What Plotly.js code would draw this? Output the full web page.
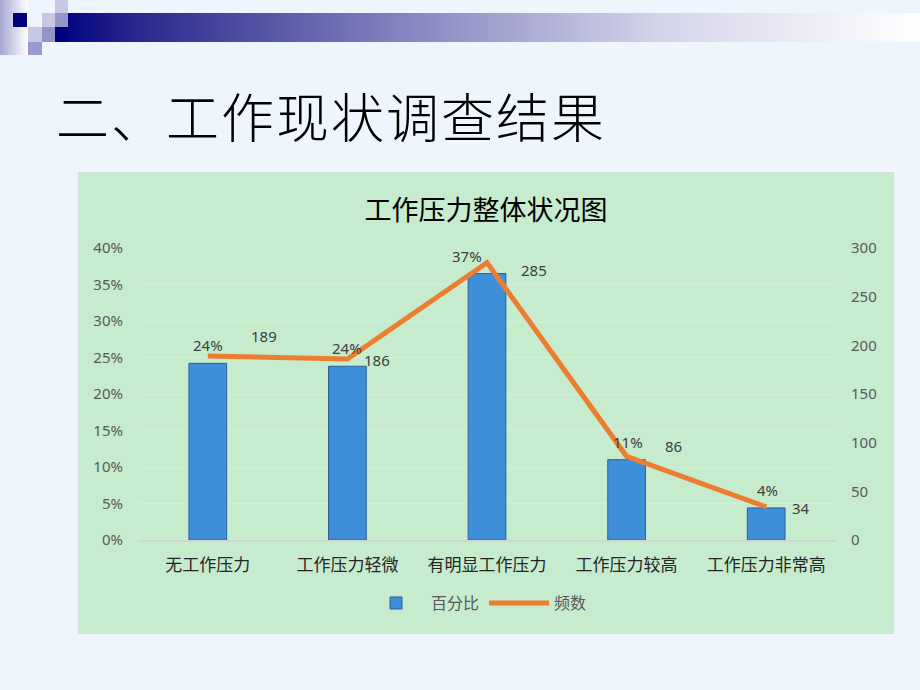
<!DOCTYPE html>
<html>
<head>
<meta charset="utf-8">
<script src="https://cdn.plot.ly/plotly-3.0.1.min.js"></script>
<style>
  html, body { margin:0; padding:0; }
  body { width:920px; height:690px; background:#EEF5FC; position:relative; overflow:hidden; font-family:"Noto Sans CJK SC", sans-serif; }
  .abs { position:absolute; }
  #leftgrad { left:0; top:0; width:28px; height:55px; background:linear-gradient(to right,#A6A6D2,#FFFFFF); }
  #topbar { left:55px; top:13px; width:865px; height:29px; background:linear-gradient(to right,#000080 0%,#2A2A8E 10%,#8484C0 40%,#D4D4EA 70%,#FFFFFF 100%); }
  #title { left:56px; top:85px; font-size:53px; line-height:60px; color:#000; font-family:"Noto Sans CJK SC", sans-serif; letter-spacing:2px; font-weight:300; }
  #chartbox { left:78px; top:172px; width:814px; height:460px; border:1px solid #D6DDDC; }
</style>
</head>
<body>
<div class="abs" id="leftgrad"></div>
<div class="abs" id="topbar"></div>
<div class="abs" style="left:13px;top:13px;width:14px;height:14px;background:#000080;"></div>
<div class="abs" style="left:55px;top:0px;width:13px;height:13px;background:#C8C8E4;"></div>
<div class="abs" style="left:42px;top:13px;width:13px;height:14px;background:#C8C8E4;"></div>
<div class="abs" style="left:55px;top:13px;width:13px;height:14px;background:#9696CA;"></div>
<div class="abs" style="left:28px;top:27px;width:14px;height:15px;background:#C8C8E4;"></div>
<div class="abs" style="left:42px;top:27px;width:13px;height:15px;background:#9494C8;"></div>
<div class="abs" style="left:55px;top:27px;width:13px;height:15px;background:#000080;"></div>
<div class="abs" style="left:28px;top:42px;width:14px;height:13px;background:#9A9AD0;"></div>
<div class="abs" id="title">二、工作现状调查结果</div>
<div class="abs" id="chartbox"><div id="chart" style="width:814px;height:460px;"></div></div>
<script>
// ---- data ----
const categories = ["无工作压力", "工作压力轻微", "有明显工作压力", "工作压力较高", "工作压力非常高"];
const frequency = [189, 186, 285, 86, 34];
const percent = [24.2, 23.8, 36.5, 11.0, 4.4];
const leftTickVals = [0, 5, 10, 15, 20, 25, 30, 35, 40];
const leftTickText = ["0%", "5%", "10%", "15%", "20%", "25%", "30%", "35%", "40%"];
const rightTickVals = [0, 50, 100, 150, 200, 250, 300];
const seriesNames = ["百分比", "频数"];
const chartTitle = "工作压力整体状况图";

// ---- label offsets (styling) ----
const pctShiftX = [0, 0, -20, 1, 1];
const freqShiftX = [56, 30, 47, 47, 35];
const freqShiftY = [20, -1, -7, 10, -1];

const numFont = {family: "Noto Sans, Open Sans, sans-serif", size: 15, color: "#404040"};

const traces = [
  {
    type: "bar", name: seriesNames[0], x: categories, y: percent, yaxis: "y",
    width: 0.27,
    marker: {color: "#3E8EDA", line: {color: "#2A5F9C", width: 1}},
    hoverinfo: "skip"
  },
  {
    type: "scatter", mode: "lines", name: seriesNames[1], x: categories, y: frequency, yaxis: "y2",
    line: {color: "#ED7D31", width: 5},
    hoverinfo: "skip"
  }
];

const annotations = [];
categories.forEach((c, i) => {
  annotations.push({
    x: c, y: percent[i], xref: "x", yref: "y", text: Math.round(percent[i]) + "%",
    showarrow: false, yshift: 18, xshift: pctShiftX[i], font: numFont
  });
  annotations.push({
    x: c, y: frequency[i], xref: "x", yref: "y2", text: String(frequency[i]),
    showarrow: false, yshift: freqShiftY[i], xshift: freqShiftX[i], font: numFont
  });
});

const layout = {
  width: 814, height: 460,
  margin: {l: 59, r: 57, t: 75, b: 93},
  paper_bgcolor: "#C6EBCD", plot_bgcolor: "#C6EBCD",
  title: {text: chartTitle, x: 0.5, xanchor: "center", y: 1, yref: "paper", yanchor: "bottom", pad: {b: 28},
          font: {family: "Noto Sans CJK SC, sans-serif", size: 27, color: "#000000"}},
  showlegend: true,
  legend: {orientation: "h", x: 0.485, xanchor: "center", y: -0.216, yanchor: "middle",
           font: {family: "Noto Sans CJK SC, sans-serif", size: 16, color: "#595959"},
           bgcolor: "rgba(0,0,0,0)", itemwidth: 60},
  bargap: 0.73,
  xaxis: {
    type: "category", showgrid: false, zeroline: false,
    showline: true, linecolor: "#D2D6D3", linewidth: 2,
    ticks: "", ticklabelstandoff: 9,
    tickfont: {family: "Noto Sans CJK SC, sans-serif", size: 17, color: "#262626"},
    fixedrange: true
  },
  yaxis: {
    range: [0, 40], tickvals: leftTickVals, ticktext: leftTickText,
    showgrid: true, gridcolor: "#D3EDD8", gridwidth: 1, zeroline: false,
    ticks: "", ticklabelstandoff: 14,
    tickfont: {family: "Noto Sans, Open Sans, sans-serif", size: 15, color: "#595959"},
    fixedrange: true
  },
  yaxis2: {
    range: [0, 300], tickvals: rightTickVals, overlaying: "y", side: "right",
    showgrid: false, zeroline: false, ticks: "", ticklabelstandoff: 14,
    tickfont: {family: "Noto Sans, Open Sans, sans-serif", size: 15, color: "#595959"},
    fixedrange: true
  },
  annotations: annotations
};

Plotly.newPlot("chart", traces, layout, {displayModeBar: false, staticPlot: true});
</script>
</body>
</html>
